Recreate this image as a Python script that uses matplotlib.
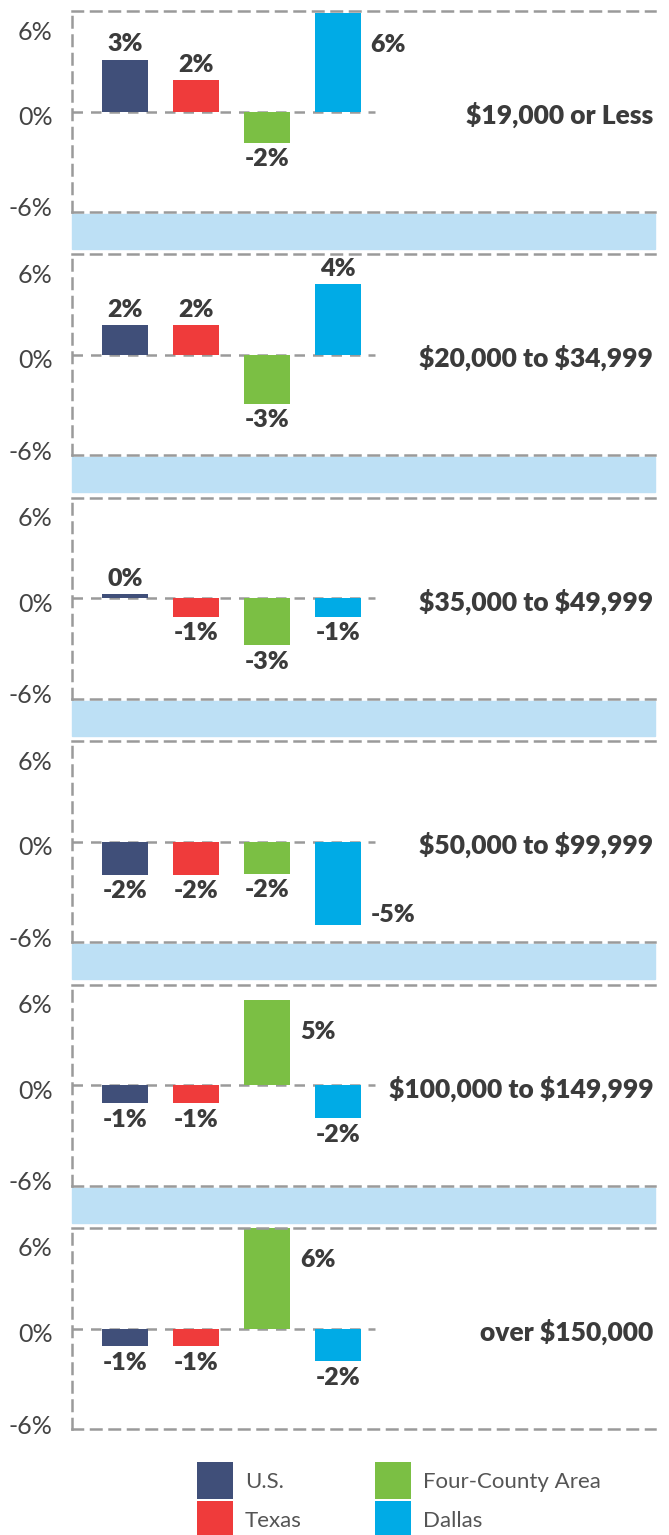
import matplotlib
matplotlib.use("Agg")
import matplotlib.pyplot as plt
import matplotlib.transforms as mtransforms
import numpy as np

plt.rcParams["font.family"] = ["Lato", "DejaVu Sans"]
plt.rcParams["text.parse_math"] = False

# income brackets (one panel each) and the four areas
brackets = [
    "$19,000 or Less",
    "$20,000 to $34,999",
    "$35,000 to $49,999",
    "$50,000 to $99,999",
    "$100,000 to $149,999",
    "over $150,000",
]
areas = ["U.S.", "Texas", "Four-County Area", "Dallas"]

# percentage point change
us = [3.1, 1.8, 0.26, -1.98, -1.09, -1.07]
texas = [1.9, 1.8, -1.09, -1.98, -1.09, -1.07]
four_county = [-1.87, -2.92, -2.81, -1.92, 5.09, 6.0]
dallas = [5.9, 4.24, -1.09, -5.0, -1.99, -1.97]

tick_vals = [6, 0, -6]
tick_labels = ["6%", "0%", "-6%"]

colors = ["#404f79", "#ef3b3b", "#7bbf44", "#00abe6"]
band_color = "#bde0f5"
grid_color = "#9a9a9a"
text_dark = "#3b3b3b"
dash = (0, (4.2, 3.2))
lw = 1.8

W, H = 669, 1535
fig = plt.figure(figsize=(W / 100, H / 100), dpi=100)

left_px, right_px = 72, 655
panel_h = 201
period = 243.4
first_top = 11

series = [us, texas, four_county, dallas]
x = np.arange(len(areas))
bar_w = 0.65
bars_last = None

for i, bracket in enumerate(brackets):
    top = first_top + i * period
    ax = fig.add_axes([left_px / W, 1 - (top + panel_h) / H,
                       (right_px - left_px) / W, panel_h / H])
    ax.set_xlim(-0.75, 7.47)
    ax.set_ylim(-6, 6)

    vals = [s[i] for s in series]
    bars = ax.bar(x, vals, width=bar_w, color=colors, zorder=2)
    bars_last = bars

    # zero line only runs under the bars
    ax.axhline(0, xmin=0, xmax=0.52, color=grid_color, lw=lw, ls=dash, zorder=1)

    for xi, v in zip(x, vals):
        txt = f"{round(v):.0f}%"
        kw = dict(textcoords="offset points", fontsize=18, fontweight="heavy", color=text_dark)
        if abs(v) > 4.5:
            y = v - 1.9 if v > 0 else v + 0.6
            ax.annotate(txt, (xi + bar_w / 2, y), xytext=(7, 0), ha="left", va="center", **kw)
        elif v >= 0:
            ax.annotate(txt, (xi, v), xytext=(0, 3), ha="center", va="bottom", **kw)
        else:
            ax.annotate(txt, (xi, v), xytext=(0, -4), ha="center", va="top", **kw)

    trans = mtransforms.blended_transform_factory(ax.transAxes, ax.transData)
    ax.text(0.997, -0.2, bracket, transform=trans, ha="right", va="center",
            fontsize=19, fontweight="heavy", color=text_dark)

    for side in ["left", "top", "bottom"]:
        ax.spines[side].set_linestyle(dash)
        ax.spines[side].set_color(grid_color)
        ax.spines[side].set_linewidth(lw)
    ax.spines["right"].set_visible(False)

    ax.set_xticks([])
    ax.set_yticks(tick_vals)
    ax.set_yticklabels(tick_labels, fontsize=18, color="#444444")
    ax.tick_params(axis="y", length=0, pad=14)
    shifts = [-19, -4, 5]
    for lab, s in zip(ax.get_yticklabels(), shifts):
        lab.set_transform(lab.get_transform() + mtransforms.ScaledTranslation(0, s / 100, fig.dpi_scale_trans))

    # light blue separator band below every panel but the last
    if i < len(brackets) - 1:
        b_top = top + panel_h + 2
        b_h = 35
        fig.add_artist(plt.Rectangle((left_px / W, 1 - (b_top + b_h) / H),
                                     (right_px - left_px) / W, b_h / H,
                                     transform=fig.transFigure, color=band_color, zorder=0))

fig.legend(bars_last, areas, ncol=2, loc="upper left",
           bbox_to_anchor=(197 / W, 1 - 1462 / H), frameon=False,
           prop={"size": 16}, handlelength=1.6, handleheight=2.2,
           handletextpad=0.55, columnspacing=3.3, labelspacing=0.1,
           borderpad=0, borderaxespad=0, labelcolor="#555555")

fig.savefig("out.png", dpi=100)
